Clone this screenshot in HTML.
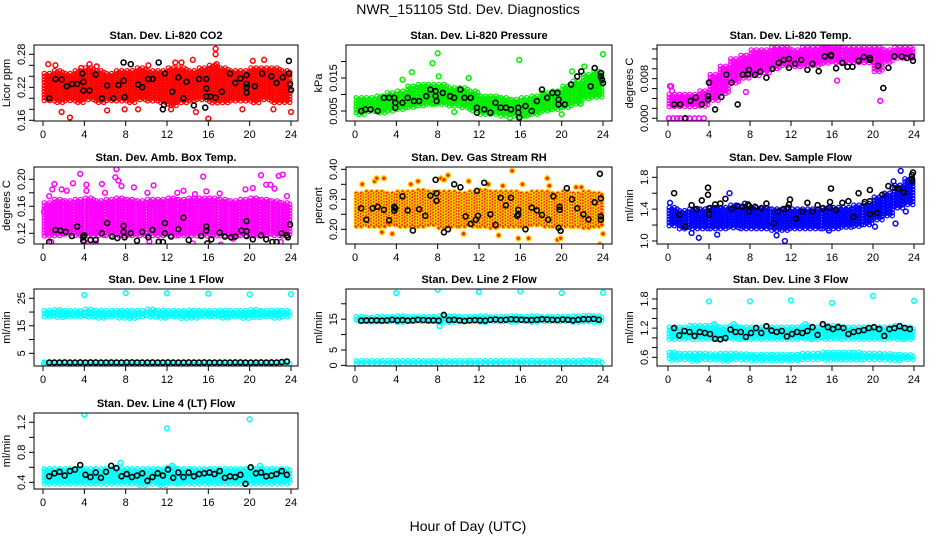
<!DOCTYPE html>
<html><head><meta charset="utf-8"><style>
html,body{margin:0;padding:0;background:#fff;}
svg{display:block;font-family:"Liberation Sans",Arial,sans-serif;}
</style></head><body>
<svg id="chart" width="936" height="540" viewBox="0 0 936 540" xmlns="http://www.w3.org/2000/svg">
<text x="468" y="14" text-anchor="middle" font-size="14">NWR_151105  Std. Dev. Diagnostics</text>
<text x="468" y="531" text-anchor="middle" font-size="14">Hour of Day (UTC)</text>
</svg>
<script>
// ---- data (hours 0-24, bins of 1 hour) ----
const xTicks = [0,4,8,12,16,20,24];

const co2Lo = [0.195,0.19,0.195,0.19,0.195,0.19,0.195,0.195,0.19,0.195,0.195,0.19,0.185,0.19,0.195,0.195,0.19,0.19,0.195,0.195,0.19,0.195,0.19,0.19];
const co2Hi = [0.245,0.25,0.245,0.25,0.255,0.25,0.245,0.25,0.25,0.255,0.25,0.25,0.255,0.255,0.25,0.255,0.26,0.255,0.25,0.25,0.255,0.255,0.255,0.25];
const co2Out = [[0.5,0.262],[1.2,0.26],[1.8,0.175],[2.6,0.165],[3.7,0.255],[4.5,0.262],[6.2,0.178],[7.9,0.18],[9.2,0.18],[10.2,0.26],[12.4,0.18],[12.8,0.265],[14.5,0.27],[14.8,0.175],[16.7,0.29],[16.7,0.28],[16.8,0.262],[16,0.163],[19.3,0.18],[20.3,0.268],[21.4,0.27],[22.3,0.18],[24,0.175],[13.4,0.265],[5.2,0.258]];
const co2Blk = [[0.6,0.20],[1.2,0.235],[1.8,0.234],[2.3,0.222],[2.8,0.226],[3.3,0.226],[3.8,0.245],[3.9,0.23],[3.9,0.214],[4.5,0.214],[5.1,0.243],[5.7,0.20],[6.2,0.223],[6.8,0.20],[7.3,0.224],[7.8,0.265],[7.8,0.232],[7.9,0.202],[8.5,0.262],[9.2,0.225],[9.6,0.22],[10.2,0.235],[10.6,0.235],[11.2,0.265],[11.6,0.18],[11.7,0.188],[11.8,0.245],[12.5,0.212],[13.1,0.238],[13.6,0.2],[13.9,0.23],[14.6,0.187],[15.1,0.235],[15.7,0.183],[15.8,0.203],[15.8,0.218],[15.8,0.235],[16.2,0.203],[16.7,0.201],[17.3,0.212],[18.1,0.245],[18.6,0.228],[19.1,0.236],[19.7,0.242],[19.7,0.226],[19.7,0.21],[19.7,0.22],[20.5,0.222],[21.2,0.245],[22.1,0.24],[22.6,0.228],[23.2,0.238],[23.8,0.268],[23.8,0.245],[23.9,0.226],[24,0.215]];

const presLo = [0.004,0.0045,0.0045,0.005,0.0055,0.006,0.0065,0.007,0.007,0.0065,0.006,0.005,0.004,0.004,0.0035,0.0035,0.0035,0.004,0.005,0.0055,0.006,0.007,0.0085,0.009];
const presHi = [0.009,0.009,0.0095,0.0105,0.011,0.0125,0.013,0.013,0.013,0.012,0.012,0.011,0.0095,0.0095,0.009,0.0085,0.009,0.0095,0.0105,0.011,0.0125,0.014,0.016,0.017];
const presOut = [[7.5,0.0195],[8,0.0225],[8.1,0.0155],[15.9,0.0205],[22.2,0.0185],[24,0.0222],[5.5,0.0168],[4.6,0.0145],[11,0.015],[9.6,0.0047],[20,0.004],[21.8,0.0072],[16.4,0.0036],[7.6,0.0072],[15,0.0029],[21,0.017]];
const presBlk = [[0.6,0.005],[1.0,0.0055],[1.5,0.0055],[2.2,0.005],[2.8,0.009],[3.3,0.009],[3.8,0.009],[3.9,0.0075],[3.9,0.006],[4.6,0.0075],[5.1,0.009],[5.7,0.008],[6.2,0.008],[6.9,0.0095],[7.3,0.0115],[7.8,0.011],[7.8,0.0095],[7.9,0.008],[8.5,0.0105],[9.2,0.0095],[9.6,0.009],[10.2,0.0115],[10.6,0.009],[11.2,0.009],[11.8,0.006],[11.8,0.0045],[12.5,0.0055],[13.1,0.0045],[13.6,0.0075],[14.1,0.006],[14.6,0.006],[15.1,0.0055],[15.8,0.0045],[15.8,0.006],[15.9,0.003],[16.5,0.0065],[17.1,0.005],[17.6,0.008],[18.1,0.0115],[18.6,0.009],[19.1,0.0105],[19.6,0.0105],[19.7,0.0085],[19.7,0.007],[20.3,0.007],[20.9,0.013],[21.5,0.0155],[21.9,0.017],[22.8,0.0125],[23.2,0.018],[23.8,0.0165],[23.8,0.0155],[23.9,0.0145],[24,0.0135]];

const tempLo = [0.0022,0.0022,0.0022,0.0024,0.0035,0.0048,0.007,0.008,0.0086,0.0092,0.0098,0.0104,0.0104,0.0106,0.0106,0.011,0.011,0.011,0.011,0.011,0.0092,0.0113,0.012,0.012];
const tempHi = [0.0048,0.0048,0.0048,0.0055,0.0088,0.0105,0.012,0.0127,0.0138,0.0138,0.0143,0.0143,0.0138,0.0143,0.0143,0.0148,0.0146,0.0143,0.0143,0.0143,0.0143,0.0138,0.0143,0.0143];
const tempOut = [[0.1,0],[0.5,0],[0.9,0],[1.2,0],[1.6,0],[2.1,0],[2.6,0],[3.0,0],[3.5,0],[0.2,0.0065],[0.3,0.0065],[0.4,0.0055],[16.5,0.0076],[20.7,0.0035],[15.6,0.0148],[7.6,0.0053]];
const tempBlk = [[0.6,0.0028],[1.2,0.0028],[1.7,0.0],[2.2,0.0035],[2.7,0.0042],[3.3,0.0028],[3.9,0.0045],[3.9,0.0038],[4.0,0.0072],[4.6,0.0018],[5.2,0.0043],[5.7,0.0088],[6.2,0.0072],[6.8,0.0028],[7.3,0.0088],[7.8,0.0089],[7.9,0.0098],[8.5,0.0088],[9.0,0.0094],[9.6,0.0082],[10.2,0.01],[10.8,0.0112],[11.3,0.0118],[11.8,0.012],[11.8,0.0102],[12.4,0.011],[13.0,0.0118],[13.6,0.0098],[14.1,0.011],[14.7,0.0095],[15.3,0.0125],[15.9,0.0126],[15.9,0.0128],[16.4,0.0101],[17.0,0.0112],[17.5,0.0104],[18.0,0.0104],[18.6,0.0116],[19.1,0.0124],[19.7,0.0122],[19.7,0.0118],[20.5,0.0106],[21.0,0.0061],[21.5,0.0102],[22.1,0.0125],[22.8,0.0125],[23.3,0.0122],[23.8,0.0125],[23.9,0.0116]];

const ambLo = [0.115,0.115,0.117,0.115,0.115,0.115,0.116,0.115,0.115,0.115,0.115,0.116,0.115,0.115,0.115,0.116,0.115,0.115,0.116,0.115,0.115,0.115,0.116,0.115];
const ambHi = [0.165,0.17,0.168,0.17,0.172,0.168,0.17,0.172,0.17,0.168,0.17,0.17,0.172,0.17,0.172,0.172,0.172,0.17,0.168,0.17,0.172,0.17,0.168,0.165];
const ambOut = [[0.6,0.175],[0.9,0.185],[1.1,0.193],[1.8,0.185],[2.3,0.183],[2.9,0.194],[3.6,0.208],[4.2,0.192],[4.2,0.183],[5.7,0.193],[6,0.18],[7,0.203],[7.1,0.215],[7.3,0.198],[7.6,0.19],[8.8,0.188],[10.7,0.191],[10.1,0.18],[13,0.18],[13.6,0.183],[14.7,0.178],[15.5,0.204],[15.8,0.182],[17.1,0.179],[19.6,0.185],[20.3,0.187],[21.1,0.206],[21.6,0.192],[22.0,0.192],[22.4,0.186],[22.8,0.205],[23.2,0.207],[23.6,0.175],[0.1,0.152],[0.8,0.107],[4,0.107],[5.1,0.105],[10.3,0.108],[11.2,0.108],[14.5,0.105],[17.2,0.103],[23,0.107],[18.4,0.112]];
const ambBlk = [[0.6,0.107],[1.2,0.125],[1.7,0.124],[2.2,0.122],[2.8,0.116],[3.3,0.13],[3.9,0.116],[3.9,0.114],[4.0,0.117],[3.9,0.109],[4.6,0.11],[5.1,0.11],[5.7,0.12],[6.2,0.135],[6.7,0.115],[7.2,0.113],[7.8,0.131],[7.8,0.122],[7.9,0.114],[8.5,0.12],[9.1,0.109],[9.6,0.122],[10.2,0.114],[10.6,0.125],[11.2,0.107],[11.6,0.107],[11.8,0.12],[11.8,0.135],[12.4,0.115],[13.1,0.126],[13.6,0.143],[14.1,0.11],[14.6,0.097],[15.3,0.116],[15.8,0.124],[15.8,0.13],[15.9,0.105],[16.3,0.111],[17.1,0.121],[17.6,0.115],[18.2,0.114],[18.6,0.115],[19.2,0.124],[19.7,0.138],[19.7,0.123],[19.7,0.116],[20.3,0.111],[21.1,0.117],[21.6,0.111],[22.2,0.107],[22.6,0.107],[23.1,0.12],[23.6,0.117],[23.7,0.114],[23.9,0.133]];

const rhLo = [0.205,0.205,0.205,0.21,0.205,0.205,0.205,0.21,0.2,0.205,0.205,0.205,0.205,0.2,0.205,0.205,0.205,0.21,0.205,0.205,0.205,0.205,0.2,0.205];
const rhHi = [0.32,0.325,0.325,0.32,0.325,0.325,0.33,0.325,0.325,0.325,0.32,0.325,0.33,0.325,0.325,0.325,0.32,0.325,0.325,0.32,0.325,0.32,0.325,0.32];
const rhOut = [[0.7,0.35],[1.9,0.36],[2.1,0.37],[2.8,0.37],[2.6,0.19],[3.6,0.185],[5.4,0.35],[6.1,0.36],[8.3,0.37],[8.6,0.365],[11,0.36],[10.5,0.185],[12.9,0.35],[15.2,0.395],[14.3,0.345],[15.8,0.17],[16.2,0.35],[16.8,0.17],[18.6,0.37],[18.8,0.345],[19.6,0.165],[21.4,0.34],[21.9,0.34],[23.7,0.15],[24,0.185],[13.9,0.18],[9,0.38],[19.9,0.17]];
const rhBlk = [[0.6,0.27],[1.1,0.232],[1.7,0.27],[2.2,0.275],[2.8,0.265],[3.3,0.23],[3.8,0.275],[3.8,0.262],[3.9,0.27],[4.6,0.31],[5.1,0.263],[5.6,0.196],[6.2,0.267],[6.8,0.245],[7.3,0.312],[7.9,0.32],[7.9,0.295],[7.8,0.365],[8.6,0.19],[9.0,0.2],[9.6,0.35],[10.2,0.34],[10.7,0.243],[11.2,0.218],[11.7,0.232],[11.8,0.328],[11.9,0.245],[12.5,0.355],[13.1,0.25],[13.6,0.215],[14.1,0.305],[14.6,0.28],[15.1,0.305],[15.8,0.265],[15.8,0.25],[15.7,0.245],[16.5,0.2],[17.1,0.272],[17.6,0.263],[18.1,0.248],[18.7,0.232],[19.2,0.31],[19.8,0.275],[19.8,0.265],[19.7,0.205],[19.9,0.195],[20.5,0.337],[21.0,0.3],[21.5,0.27],[22.1,0.25],[22.6,0.233],[23.2,0.29],[23.7,0.385],[23.8,0.303],[23.8,0.243],[23.8,0.232]];

const flowLo = [1.18,1.15,1.15,1.15,1.15,1.15,1.15,1.15,1.15,1.15,1.13,1.13,1.15,1.15,1.15,1.15,1.15,1.17,1.18,1.2,1.25,1.3,1.4,1.45];
const flowHi = [1.42,1.38,1.4,1.4,1.42,1.42,1.45,1.42,1.42,1.42,1.4,1.4,1.4,1.4,1.4,1.42,1.42,1.42,1.45,1.47,1.55,1.6,1.7,1.78];
const flowOut = [[3,1.04],[2.3,1.1],[4.8,1.08],[6,1.6],[7.5,1.47],[10.6,1.07],[11.4,1.0],[15.7,1.13],[22.7,1.88],[22,1.75],[22.2,1.22],[20.2,1.18],[23.2,1.37],[0.2,1.48]];
const flowBlk = [[0.6,1.6],[1.1,1.33],[1.7,1.18],[2.3,1.45],[2.8,1.4],[3.3,1.51],[3.9,1.67],[3.9,1.58],[4.0,1.41],[4.0,1.33],[4.6,1.46],[5.1,1.47],[5.6,1.53],[6.2,1.4],[6.8,1.44],[7.3,1.43],[7.8,1.46],[7.9,1.44],[7.9,1.37],[8.5,1.43],[9.1,1.41],[9.6,1.47],[10.3,1.22],[10.7,1.37],[11.3,1.4],[11.7,1.42],[11.8,1.46],[11.9,1.52],[12.5,1.28],[13.1,1.37],[13.6,1.48],[14.1,1.37],[14.6,1.45],[15.1,1.41],[15.8,1.49],[15.8,1.42],[15.9,1.66],[16.4,1.39],[17.0,1.48],[17.6,1.5],[18.1,1.3],[18.6,1.6],[19.2,1.49],[19.7,1.64],[19.7,1.5],[19.7,1.34],[20.4,1.35],[20.9,1.58],[21.5,1.69],[21.9,1.67],[22.5,1.66],[23.0,1.61],[23.8,1.75],[23.8,1.78],[23.8,1.83],[23.9,1.86]];

const l1Lo = [17.8,17.6,17.8,17.8,17.8,17.8,17.8,17.8,17.6,17.8,17.8,17.8,17.8,17.6,17.8,17.8,17.8,17.8,17.8,17.6,17.8,17.8,17.8,17.8];
const l1Hi = [20.5,20.8,20.5,20.5,21,20.6,20.5,20.6,20.5,20.5,21,20.6,20.5,20.5,20.6,20.5,20.5,20.6,20.5,20.5,20.8,20.5,20.6,20.5];
const l1BaseLo = [0.6,0.6,0.6,0.6,0.6,0.6,0.6,0.6,0.6,0.6,0.6,0.6,0.6,0.6,0.6,0.6,0.6,0.6,0.6,0.6,0.6,0.6,0.6,0.6];
const l1BaseHi = [1.8,1.8,1.8,1.8,1.8,1.8,1.8,1.8,1.8,1.8,1.8,1.8,1.8,1.8,1.8,1.8,1.8,1.8,1.8,1.8,1.8,1.8,1.8,1.8];
const l1Out = [[4,26.2],[8,26.9],[12,26.8],[16,26.7],[20,26.4],[24,26.5],[0.1,1.2]];
const l1Blk = [1.6,1.6,1.6,1.7,1.6,1.6,1.7,1.6,1.7,1.7,1.6,1.6,1.7,1.6,1.6,1.7,1.7,1.6,1.6,1.6,1.7,1.6,1.6,1.7,1.6,1.6,1.6,1.7,1.6,1.6,1.7,1.6,1.6,1.6,1.6,1.6,1.7,1.7,1.6,1.6,1.6,1.7,1.6,1.7,1.6,1.8,2.0];

const l2Lo = [14.0,14.0,14.0,14.0,14.0,14.0,14.0,14.0,13.8,14.0,14.0,14.0,14.0,14.0,14.0,14.0,14.0,14.0,14.0,14.0,14.0,14.0,14.0,14.0];
const l2Hi = [15.8,15.6,15.8,15.8,16.0,15.8,15.8,15.8,16.0,16.0,15.8,15.8,16.0,15.8,15.8,16.0,15.8,16.0,15.8,15.8,15.8,16.0,16.2,16.0];
const l2BaseLo = [0.3,0.3,0.3,0.3,0.3,0.3,0.3,0.3,0.3,0.3,0.3,0.3,0.3,0.3,0.3,0.3,0.3,0.3,0.3,0.3,0.3,0.3,0.3,0.3];
const l2BaseHi = [1.5,1.5,1.5,1.5,1.5,1.5,1.5,1.5,1.5,1.5,1.5,1.5,1.5,1.5,1.5,1.5,1.5,1.5,1.5,1.5,1.5,1.5,1.7,1.5];
const l2Out = [[4,23.5],[8,24.6],[12,23.8],[16,24.1],[20,23.5],[24,23.6],[8.2,12.8]];
const l2Blk = [14.5,14.6,14.6,14.6,14.5,14.6,14.8,14.6,14.7,14.5,14.6,14.8,14.7,14.6,14.6,14.5,16.4,14.7,14.8,14.6,14.4,14.6,14.7,14.6,14.5,14.8,14.9,14.7,14.8,15.0,14.9,14.8,14.7,14.7,14.8,15.0,14.9,14.8,14.7,14.9,14.8,14.6,14.8,15.0,15.0,15.1,14.8];

const l3Lo = [0.97,0.97,0.97,0.97,0.95,0.97,0.97,0.97,0.97,0.97,0.97,0.97,0.97,0.97,0.97,0.97,0.97,0.97,0.97,0.97,0.97,0.97,0.97,0.97];
const l3Hi = [1.22,1.22,1.25,1.25,1.25,1.22,1.25,1.22,1.22,1.22,1.22,1.22,1.22,1.25,1.22,1.25,1.25,1.22,1.22,1.22,1.22,1.22,1.25,1.22];
const l3BaseLo = [0.53,0.53,0.52,0.53,0.53,0.5,0.53,0.53,0.53,0.53,0.53,0.53,0.52,0.53,0.53,0.53,0.53,0.53,0.53,0.53,0.53,0.53,0.53,0.53];
const l3BaseHi = [0.7,0.68,0.68,0.68,0.67,0.68,0.68,0.67,0.66,0.66,0.66,0.66,0.66,0.68,0.68,0.7,0.7,0.7,0.7,0.68,0.68,0.67,0.66,0.65];
const l3Out = [[4,1.75],[8,1.75],[12,1.77],[16,1.72],[20,1.86],[24,1.76],[4.5,1.28],[6.4,1.28],[13.4,1.28]];
const l3Blk = [1.2,1.05,1.14,1.12,1.04,1.12,1.1,1.08,0.98,0.97,1.0,1.17,1.12,1.12,1.02,1.1,1.2,1.1,1.24,1.15,1.12,1.14,1.03,1.08,1.12,1.1,1.14,1.22,1.06,1.28,1.22,1.18,1.22,1.2,1.08,1.12,1.14,1.16,1.2,1.22,1.18,1.04,1.18,1.2,1.24,1.2,1.18];

const l4Lo = [0.37,0.37,0.37,0.37,0.37,0.37,0.37,0.37,0.37,0.36,0.37,0.36,0.37,0.37,0.37,0.37,0.37,0.37,0.37,0.37,0.37,0.37,0.37,0.37];
const l4Hi = [0.58,0.58,0.58,0.58,0.58,0.58,0.58,0.58,0.58,0.58,0.58,0.58,0.6,0.58,0.58,0.58,0.58,0.58,0.58,0.58,0.58,0.58,0.58,0.58];
const l4Out = [[4,1.3],[12,1.12],[20,1.24],[7.5,0.66],[12.5,0.62],[21,0.62]];
const l4Blk = [0.48,0.52,0.54,0.49,0.55,0.57,0.63,0.5,0.47,0.53,0.46,0.54,0.62,0.59,0.48,0.51,0.47,0.49,0.52,0.42,0.47,0.52,0.49,0.57,0.46,0.53,0.47,0.53,0.48,0.51,0.52,0.53,0.51,0.55,0.46,0.48,0.47,0.5,0.38,0.6,0.52,0.53,0.48,0.49,0.51,0.55,0.5];

// ---- layout ----
const NS = "http://www.w3.org/2000/svg";
const svg = document.getElementById('chart');
const cols = [{bl:34,br:298,x0:43,x24:291},{bl:346,br:612,x0:355,x24:603},{bl:657,br:924,x0:668,x24:914}];
const rows = [{t:45,b:121},{t:167,b:244},{t:289,b:366},{t:413,b:489}];

function el(tag, attrs, parent){
  const e = document.createElementNS(NS, tag);
  for (const k in attrs) e.setAttribute(k, attrs[k]);
  (parent||svg).appendChild(e);
  return e;
}

const panels = [
 {key:'co2',c:0,r:0,title:'Stan. Dev. Li-820 CO2',yl:'Licor ppm',ylo:0.1587,yhi:0.2969,ticks:[0.16,0.18,0.2,0.22,0.24,0.26,0.28],labels:[0.16,0.22,0.28],dec:2,color:'#ff0000',lo:co2Lo,hi:co2Hi,out:co2Out,blk:co2Blk},
 {key:'pressure',c:1,r:0,title:'Stan. Dev. Li-820 Pressure',yl:'kPa',ylo:0.00197,yhi:0.025,ticks:[0.005,0.01,0.015,0.02],labels:[0.005,0.015],dec:3,color:'#00ee00',lo:presLo,hi:presHi,out:presOut,blk:presBlk},
 {key:'temp',c:2,r:0,title:'Stan. Dev. Li-820 Temp.',yl:'degrees C',ylo:-0.00055,yhi:0.0148,ticks:[0,0.002,0.004,0.006,0.008,0.01,0.012,0.014],labels:[0,0.008],dec:3,color:'#ff00ff',lo:tempLo,hi:tempHi,out:tempOut,blk:tempBlk},
 {key:'ambtemp',c:0,r:1,title:'Stan. Dev. Amb. Box Temp.',yl:'degrees C',ylo:0.1041,yhi:0.2182,ticks:[0.12,0.14,0.16,0.18,0.2],labels:[0.12,0.16,0.2],dec:2,color:'#ff00ff',lo:ambLo,hi:ambHi,out:ambOut,blk:ambBlk},
 {key:'rh',c:1,r:1,title:'Stan. Dev. Gas Stream RH',yl:'percent',ylo:0.151,yhi:0.4077,ticks:[0.2,0.25,0.3,0.35,0.4],labels:[0.2,0.3,0.4],dec:2,color:'#ffd000',inner:'#ff2000',lo:rhLo,hi:rhHi,out:rhOut,blk:rhBlk},
 {key:'sampleflow',c:2,r:1,title:'Stan. Dev. Sample Flow',yl:'ml/min',ylo:0.962,yhi:1.9296,ticks:[1,1.2,1.4,1.6,1.8],labels:[1,1.4,1.8],dec:1,color:'#0000ff',lo:flowLo,hi:flowHi,out:flowOut,blk:flowBlk},
 {key:'line1',c:0,r:2,title:'Stan. Dev. Line 1 Flow',yl:'ml/min',ylo:0.38,yhi:28.38,ticks:[5,10,15,20,25],labels:[5,15,25],dec:0,color:'#00ffff',lo:l1Lo,hi:l1Hi,lo2:l1BaseLo,hi2:l1BaseHi,out:l1Out,blkv:l1Blk},
 {key:'line2',c:1,r:2,title:'Stan. Dev. Line 2 Flow',yl:'ml/min',ylo:-0.2,yhi:24.8,ticks:[0,5,10,15,20],labels:[0,5,15],dec:0,color:'#00ffff',lo:l2Lo,hi:l2Hi,lo2:l2BaseLo,hi2:l2BaseHi,out:l2Out,blkv:l2Blk},
 {key:'line3',c:2,r:2,title:'Stan. Dev. Line 3 Flow',yl:'ml/min',ylo:0.421,yhi:2.005,ticks:[0.6,0.8,1,1.2,1.4,1.6,1.8],labels:[0.6,1.2,1.8],dec:1,color:'#00ffff',lo:l3Lo,hi:l3Hi,lo2:l3BaseLo,hi2:l3BaseHi,out:l3Out,blkv:l3Blk},
 {key:'line4',c:0,r:3,title:'Stan. Dev. Line 4 (LT) Flow',yl:'ml/min',ylo:0.311,yhi:1.324,ticks:[0.4,0.6,0.8,1,1.2],labels:[0.4,0.8,1.2],dec:1,color:'#00ffff',lo:l4Lo,hi:l4Hi,out:l4Out,blkv:l4Blk}
];

function drawPanel(p){
  const col = cols[p.c], row = rows[p.r];
  const g = el('g', {});
  
  
  const X = h => col.x0 + (col.x24 - col.x0) * h / 24;
  const Y = v => row.b - (v - p.ylo) / (p.yhi - p.ylo) * (row.b - row.t);
  const bw = (col.x24 - col.x0) / 24;
  const clipId = 'clip-' + p.key;
  const cp = el('clipPath', {id: clipId}, g);
  el('rect', {x: col.bl, y: row.t, width: col.br - col.bl, height: row.b - row.t}, cp);
  const marks = el('g', {'clip-path': 'url(#' + clipId + ')'}, g);
  
  

  function band(lo, hi, name){
    const bg = el('g', {fill: p.inner || 'none', stroke: p.color, 'stroke-width': 1.2}, marks);
    
    
    for (let i = 0; i < lo.length; i++){
      const y1 = Y(hi[i]), y2 = Y(lo[i]);
      for (let k = 0; k < 4; k++){
        const cx = X(i) + 1.3 + k * bw / 4;
        for (let y = y1 + ((k % 2) * 1.5); y <= y2; y += 3){
          const c = el('circle', {cx: cx.toFixed(1), cy: y.toFixed(1), r: 2.2}, bg);
          
          
        }
      }
    }
  }
  band(p.lo, p.hi, 'series-band');
  if (p.lo2) band(p.lo2, p.hi2, 'series-band-low');
  const og = el('g', {fill: p.inner || 'none', stroke: p.color, 'stroke-width': 1.5}, marks);
  
  
  p.out.forEach(d => {
    const c = el('circle', {cx: X(d[0]).toFixed(1), cy: Y(d[1]).toFixed(1), r: 2.4}, og);
    
    
  });
  const kg = el('g', {fill: 'none', stroke: '#000', 'stroke-width': 1.6}, marks);
  
  
  const blk = p.blk || p.blkv.map((v, i) => [0.6 + i * 0.5, v]);
  blk.forEach(d => {
    const c = el('circle', {cx: X(d[0]).toFixed(1), cy: Y(d[1]).toFixed(1), r: 2.5}, kg);
    
    
  });

  const box = el('rect', {x: col.bl, y: row.t, width: col.br - col.bl, height: row.b - row.t, fill: 'none', stroke: '#000', 'stroke-width': 1}, g);
  
  
  const t = el('text', {x: (col.bl + col.br) / 2, y: row.t - 6, 'text-anchor': 'middle', 'font-size': 11, 'font-weight': 'bold'}, g);
  t.textContent = p.title;
  
  
  const xa = el('g', {stroke: '#000', 'stroke-width': 1}, g);
  
  
  el('line', {x1: X(0), x2: X(24), y1: row.b, y2: row.b}, xa);
  xTicks.forEach(h => {
    el('line', {x1: X(h), x2: X(h), y1: row.b, y2: row.b + 5}, xa);
    const tl = el('text', {x: X(h), y: row.b + 17, 'text-anchor': 'middle', 'font-size': 11, stroke: 'none', fill: '#000'}, g);
    tl.textContent = h;
    
    
  });
  const ya = el('g', {stroke: '#000', 'stroke-width': 1}, g);
  
  
  el('line', {x1: col.bl, x2: col.bl, y1: Y(p.ticks[0]), y2: Y(p.ticks[p.ticks.length - 1])}, ya);
  p.ticks.forEach(v => el('line', {x1: col.bl - 5, x2: col.bl, y1: Y(v), y2: Y(v)}, ya));
  p.labels.forEach(v => {
    const x = col.bl - 9, y = Y(v);
    const tl = el('text', {x: x, y: y, 'text-anchor': 'middle', 'font-size': 11, transform: 'rotate(-90 ' + x + ' ' + y + ')'}, g);
    tl.textContent = v.toFixed(p.dec);
    
    
  });
  const yx = col.bl - 24, yy = (row.t + row.b) / 2;
  const yt = el('text', {x: yx, y: yy, 'text-anchor': 'middle', 'font-size': 11, transform: 'rotate(-90 ' + yx + ' ' + yy + ')'}, g);
  yt.textContent = p.yl;
  
  
}
panels.forEach(drawPanel);
</script>
</body></html>
